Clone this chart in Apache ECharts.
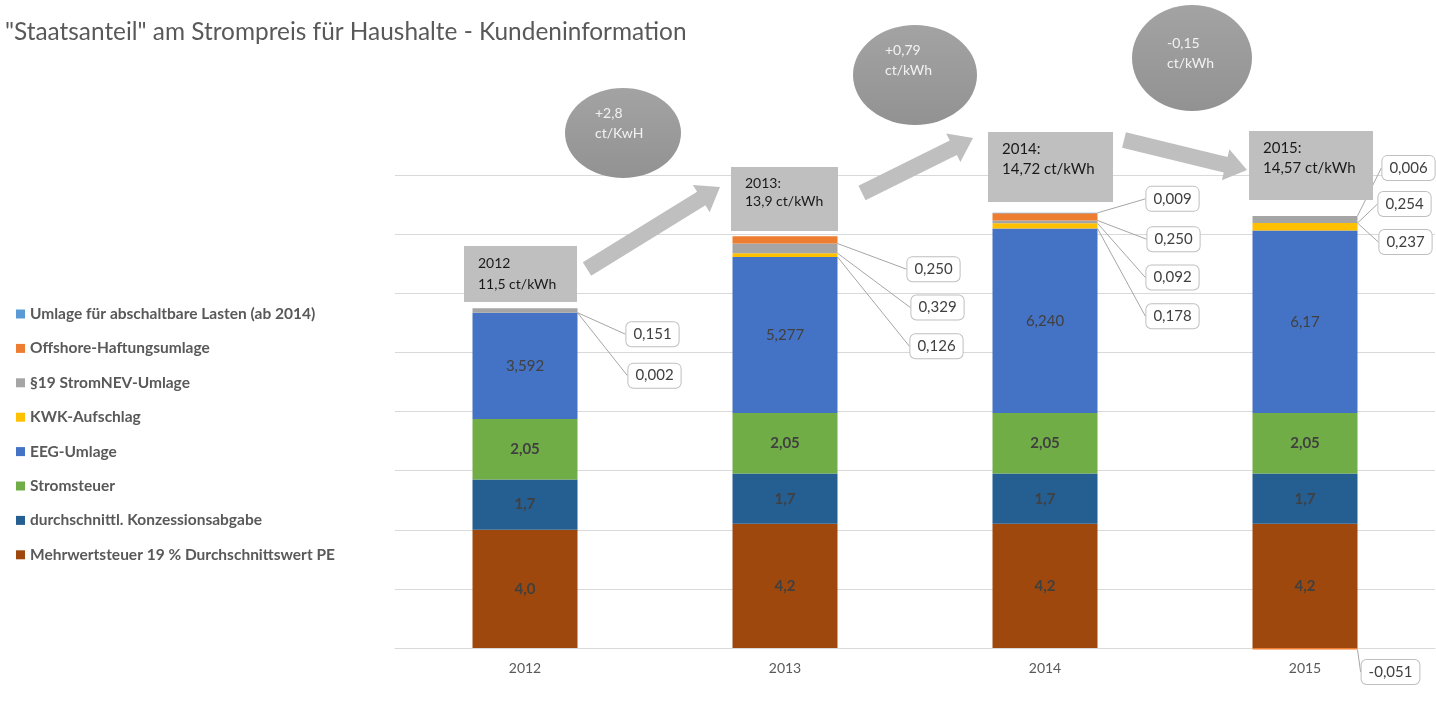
<!DOCTYPE html>
<html>
<head>
<meta charset="utf-8">
<script src="https://cdn.jsdelivr.net/npm/echarts@6/dist/echarts.min.js"></script>
<style>
  html, body { margin: 0; padding: 0; background: #fff; }
  #chart { width: 1436px; height: 704px; }
</style>
</head>
<body>
<div id="chart"></div>
<script>
// data (ct/kWh)
const years = ['2012', '2013', '2014', '2015'];
const mwst = [4.0, 4.2, 4.2, 4.2];
const konzession = [1.7, 1.7, 1.7, 1.7];
const stromsteuer = [2.05, 2.05, 2.05, 2.05];
const eeg = [3.592, 5.277, 6.240, 6.17];
const eegDecimals = [3, 3, 3, 2];
const kwk = [0.002, 0.126, 0.178, 0.254];
const nev19 = [0.151, 0.329, 0.092, 0.237];
const offshore = [null, 0.250, 0.250, -0.051];
const abschaltbar = [null, null, 0.009, 0.006];
const totalTexts = ['2012\n11,5 ct/kWh', '2013:\n13,9 ct/kWh', '2014:\n14,72 ct/kWh', '2015:\n14,57 ct/kWh'];
const deltaTexts = ['+2,8\nct/KwH', '+0,79\nct/kWh', '-0,15\nct/kWh'];

// callout placement: [dx from bar right edge, dy from segment top]
const calloutPos = {
  kwk: [[77, 63], [99, 93], [75, 93], [47, -19]],
  nev19: [[75, 26], [100, 64], [75, 57], [48, 26]],
  offshore: [null, [96, 33], [76, 26], [33, 24]],
  abschaltbar: [null, null, [75, -14], [51, -48]]
};

const FONT = 'Lato, "Open Sans", sans-serif';
const fmt = (v, d) => v.toFixed(d).replace('.', ',');

const chart = echarts.init(document.getElementById('chart'));

function insideSeries(name, data, color, decimals, bold) {
  return {
    name, type: 'bar', stack: 'total', barWidth: 105, clip: false,
    data, itemStyle: { color },
    label: {
      show: true, position: 'inside', fontFamily: FONT, fontSize: 15,
      fontWeight: bold ? 'bold' : 'normal', color: '#404040',
      formatter: p => fmt(p.value, Array.isArray(decimals) ? decimals[p.dataIndex] : decimals)
    }
  };
}

function calloutSeries(name, key, data, color) {
  const pos = calloutPos[key];
  return {
    name, type: 'bar', stack: 'total', barWidth: 105, clip: false,
    itemStyle: { color },
    data: data.map((v, i) => (v !== null && pos[i]) ? { value: v, label: { show: true } } : v),
    label: {
      show: false, fontFamily: FONT, fontSize: 15, color: '#404040',
      backgroundColor: '#fff', borderColor: '#bfbfbf', borderWidth: 1, borderRadius: 5,
      padding: [5, 7, 4, 7],
      formatter: p => fmt(p.value, 3)
    },
    labelLine: { show: true, lineStyle: { color: '#a6a6a6', width: 1 } },
    labelLayout: p => {
      const o = pos[p.dataIndex];
      if (!o) return {};
      return {
        x: p.rect.x + p.rect.width + o[0],
        y: p.rect.y + o[1],
        align: 'center', verticalAlign: 'middle'
      };
    }
  };
}

function arrow(x0, y0, x1, y1) {
  const w = 8, h = 16, L = 22;
  const dx = x1 - x0, dy = y1 - y0, len = Math.hypot(dx, dy);
  const ux = dx / len, uy = dy / len, nx = -uy, ny = ux;
  const bx = x1 - ux * L, by = y1 - uy * L;
  return {
    type: 'polygon', z: 20,
    shape: { points: [
      [x0 + nx * w, y0 + ny * w], [bx + nx * w, by + ny * w], [bx + nx * h, by + ny * h],
      [x1, y1],
      [bx - nx * h, by - ny * h], [bx - nx * w, by - ny * w], [x0 - nx * w, y0 - ny * w]
    ] },
    style: { fill: '#bfbfbf' }
  };
}

function box(x, y, w, h, i, size, lh) {
  return [
    { type: 'rect', z: 20, shape: { x, y, width: w, height: h }, style: { fill: '#bfbfbf' } },
    { type: 'text', z: 21, x: x + 14, y: y + 7,
      style: { text: totalTexts[i], fill: '#1a1a1a', font: size + 'px ' + FONT, lineHeight: lh } }
  ];
}

function bubble(cx, cy, rx, ry, i, tx, ty) {
  return [
    { type: 'circle', z: 20, x: cx, y: cy, scaleX: rx / 50, scaleY: ry / 50,
      shape: { cx: 0, cy: 0, r: 50 },
      style: { fill: { type: 'linear', x: 0, y: 0, x2: 0, y2: 1,
        colorStops: [{ offset: 0, color: '#a3a3a3' }, { offset: 1, color: '#929292' }] } } },
    { type: 'text', z: 21, x: tx, y: ty,
      style: { text: deltaTexts[i], fill: '#f2f2f2', font: '14px ' + FONT, lineHeight: 20 } }
  ];
}

chart.setOption({
  animation: false,
  title: {
    text: '"Staatsanteil" am Strompreis für Haushalte - Kundeninformation',
    left: 5, top: 20, padding: 0,
    textStyle: { fontFamily: FONT, fontSize: 24.4, fontWeight: 'normal', color: '#595959' }
  },
  legend: {
    orient: 'vertical', left: 16, top: 306, padding: 0, selectedMode: false,
    icon: 'rect', itemWidth: 9, itemHeight: 9, itemGap: 18.4,
    textStyle: { fontFamily: FONT, fontSize: 15.5, fontWeight: 'bold', color: '#595959', lineHeight: 16 },
    data: ['Umlage für abschaltbare Lasten (ab 2014)', 'Offshore-Haftungsumlage', '§19 StromNEV-Umlage',
      'KWK-Aufschlag', 'EEG-Umlage', 'Stromsteuer', 'durchschnittl. Konzessionsabgabe',
      'Mehrwertsteuer 19 % Durchschnittswert PE']
  },
  grid: { left: 395, right: 1, top: 175, bottom: 56, containLabel: false },
  xAxis: {
    type: 'category', data: years,
    axisTick: { show: false },
    axisLine: { lineStyle: { color: '#d9d9d9' } },
    axisLabel: { fontFamily: FONT, fontSize: 14, color: '#595959', margin: 13 }
  },
  yAxis: {
    type: 'value', min: 0, max: 16, interval: 2,
    axisLabel: { show: false }, axisLine: { show: false }, axisTick: { show: false },
    splitLine: { lineStyle: { color: '#d9d9d9' } }
  },
  series: [
    insideSeries('Mehrwertsteuer 19 % Durchschnittswert PE', mwst, '#9e480e', 1, true),
    insideSeries('durchschnittl. Konzessionsabgabe', konzession, '#255e91', 1, true),
    insideSeries('Stromsteuer', stromsteuer, '#70ad47', 2, true),
    insideSeries('EEG-Umlage', eeg, '#4472c4', eegDecimals, false),
    calloutSeries('KWK-Aufschlag', 'kwk', kwk, '#ffc000'),
    calloutSeries('§19 StromNEV-Umlage', 'nev19', nev19, '#a5a5a5'),
    calloutSeries('Offshore-Haftungsumlage', 'offshore', offshore, '#ed7d31'),
    calloutSeries('Umlage für abschaltbare Lasten (ab 2014)', 'abschaltbar', abschaltbar, '#5b9bd5')
  ],
  graphic: [].concat(
    box(464, 246, 113, 56, 0, 14, 21),
    box(731, 167, 107, 64, 1, 14, 18),
    box(988, 132, 125, 70, 2, 15, 20),
    box(1249, 131, 124, 69, 3, 15, 20),
    [arrow(587, 269, 720, 187), arrow(862, 193, 973, 138), arrow(1124, 140, 1247, 170)],
    bubble(623, 133, 58, 45, 0, 595, 103),
    bubble(915, 75, 62, 50, 1, 885, 40),
    bubble(1192, 58, 60, 53, 2, 1167, 33)
  )
});
</script>
</body>
</html>
